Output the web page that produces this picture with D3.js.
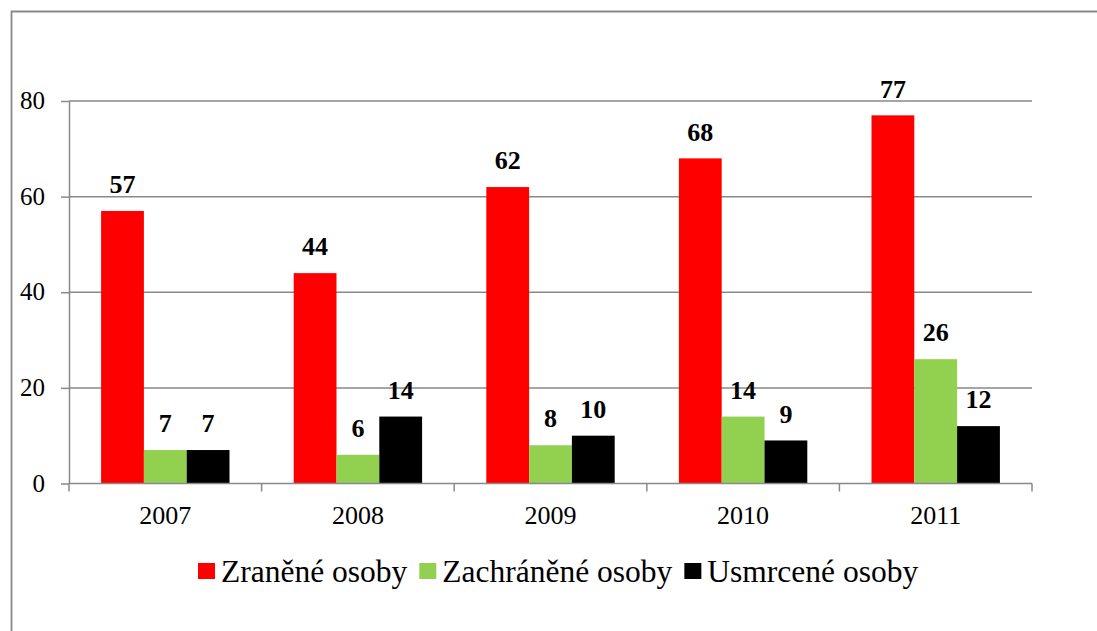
<!DOCTYPE html>
<html><head><meta charset="utf-8">
<script src="https://cdn.jsdelivr.net/npm/d3@7"></script>
<style>
body{margin:0;background:#fff}
#wrap{position:relative;width:1097px;height:631px;overflow:hidden}
#wrap svg{position:absolute;left:0;top:0;display:block}
.lbl{position:absolute;line-height:0;white-space:nowrap;font-family:'Liberation Serif';color:#000}
</style>
</head><body>
<div id="wrap"><svg id="chart" width="1097" height="631"></svg></div>
<script>
const categories = ["2007", "2008", "2009", "2010", "2011"];
const seriesNames = ["Zraněné osoby", "Zachráněné osoby", "Usmrcené osoby"];
const zranene = [57, 44, 62, 68, 77];
const zachranene = [7, 6, 8, 14, 26];
const usmrcene = [7, 14, 10, 9, 12];
const yTicks = [0, 20, 40, 60, 80];
const colors = ["#FF0000", "#92D050", "#000000"];

(function () {
const seriesValues = [zranene, zachranene, usmrcene];
const wrap = d3.select("#wrap");
const svg = d3.select("#chart");
const grey = "#898989";

function addText(x, baseline, str, size, anchor, bold) {
  const shift = anchor === "middle" ? "-50%" : anchor === "end" ? "-100%" : "0";
  return wrap.append("div").attr("class", "lbl")
    .style("left", x + "px").style("top", (baseline - 0.3375 * size) + "px")
    .style("font-size", size + "px").style("font-weight", bold ? "bold" : "normal")
    .style("transform", `translateX(${shift})`)
    .text(str);
}

const pLeft = 69, pRight = 1032, pTop = 101, pBottom = 483.5;

svg.append("path").attr("d", "M11.5,640 L11.5,11.5 L1110,11.5")
  .attr("fill", "none").attr("stroke", grey).attr("stroke-width", 1.8);

const x = d3.scaleBand().domain(categories).range([pLeft, pRight]).paddingInner(0).paddingOuter(0);
const inner = d3.scaleBand().domain(d3.range(3)).range([0, x.bandwidth()]).paddingInner(0).paddingOuter(0.75);
const y = d3.scaleLinear().domain([0, 80]).range([pBottom, pTop]);

// gridlines
svg.append("g").selectAll("line").data(yTicks.filter(d => d > 0)).join("line")
  .attr("x1", pLeft).attr("x2", pRight)
  .attr("y1", d => y(d)).attr("y2", d => y(d))
  .attr("stroke", grey).attr("stroke-width", 1.5);

// y axis
const yAxis = svg.append("g").attr("transform", `translate(${pLeft},0)`)
  .call(d3.axisLeft(y).tickValues(yTicks).tickSize(8).tickSizeOuter(0).tickFormat(""));
yAxis.select(".domain").attr("stroke", grey).attr("stroke-width", 1.5);
yAxis.selectAll(".tick line").attr("stroke", grey).attr("stroke-width", 1.5);
yAxis.selectAll(".tick text").remove();
yTicks.forEach(t => addText(pLeft - 24, y(t) + 8.5, String(t), 25, "end", false));

// bars
const groups = svg.append("g").selectAll("g").data(categories).join("g")
  .attr("transform", d => `translate(${x(d)},0)`);
groups.selectAll("rect").data((c, i) => seriesValues.map((s, k) => ({k, v: s[i]}))).join("rect")
  .attr("x", d => inner(d.k)).attr("width", inner.bandwidth())
  .attr("y", d => y(d.v)).attr("height", d => y(0) - y(d.v))
  .attr("fill", d => colors[d.k]);
categories.forEach((c, i) => {
  seriesValues.forEach((s, k) => {
    addText(x(c) + inner(k) + inner.bandwidth() / 2, y(s[i]) - 17, String(s[i]), 26, "middle", true);
  });
});

// x axis
svg.append("line").attr("x1", pLeft).attr("x2", pRight).attr("y1", pBottom).attr("y2", pBottom)
  .attr("stroke", grey).attr("stroke-width", 1.5);
const bounds = categories.map(c => x(c)).concat([pRight]);
svg.append("g").selectAll("line").data(bounds).join("line")
  .attr("x1", d => d).attr("x2", d => d).attr("y1", pBottom).attr("y2", pBottom + 8)
  .attr("stroke", grey).attr("stroke-width", 1.5);
categories.forEach(c => addText(x(c) + x.bandwidth() / 2, pBottom + 41.5, c, 26, "middle", false));

// legend
let lx = 198;
seriesNames.forEach((name, k) => {
  svg.append("rect").attr("x", lx).attr("y", 563).attr("width", 17).attr("height", 16).attr("fill", colors[k]);
  const t = addText(lx + 23, 583, name, 31.5, "start", false);
  lx += 23 + t.node().getBoundingClientRect().width + 12;
});
})();
</script>
</body></html>
